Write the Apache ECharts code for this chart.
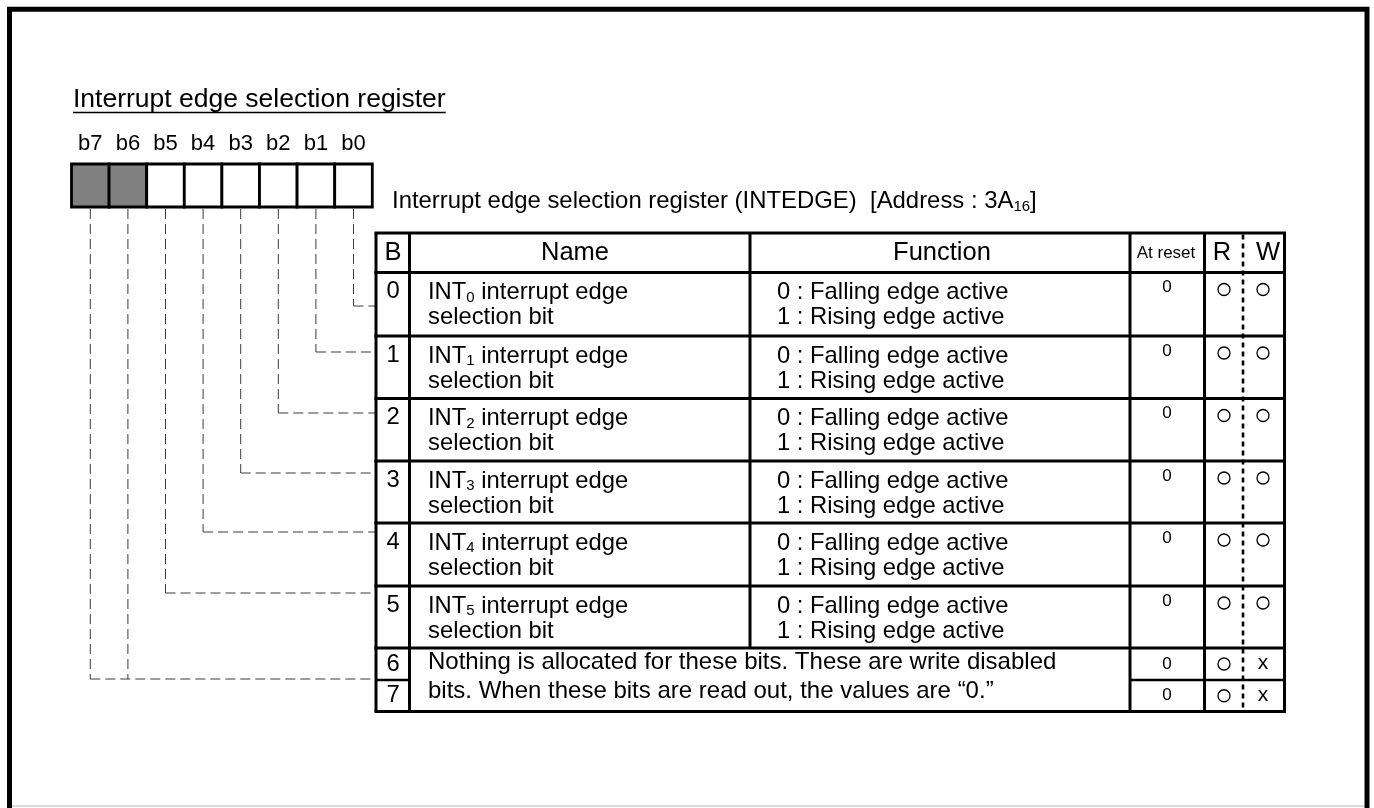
<!DOCTYPE html>
<html>
<head>
<meta charset="utf-8">
<script src="https://cdn.jsdelivr.net/npm/echarts@6/dist/echarts.min.js"></script>
<style>
html,body{margin:0;padding:0;background:#fff;}
#main{width:1374px;height:808px;}
</style>
</head>
<body>
<div id="main"></div>
<script>
// ---------------- content (data) ----------------
const title = 'Interrupt edge selection register';
const registerName = 'Interrupt edge selection register (INTEDGE)';
const addressLabel = '[Address : ';
const addressMain = '3A';
const addressSub = '16';
const bitLabels = ['b7', 'b6', 'b5', 'b4', 'b3', 'b2', 'b1', 'b0'];
const bitReserved = [true, true, false, false, false, false, false, false];
const headers = ['B', 'Name', 'Function', 'At reset', 'R', 'W'];
const rowBits = ['0', '1', '2', '3', '4', '5', '6', '7'];
const namePrefix = 'INT';
const nameIndex = ['0', '1', '2', '3', '4', '5'];
const nameRest = [' interrupt edge', ' interrupt edge', ' interrupt edge', ' interrupt edge', ' interrupt edge', ' interrupt edge'];
const nameLine2 = ['selection bit', 'selection bit', 'selection bit', 'selection bit', 'selection bit', 'selection bit'];
const funcLine1 = ['0 : Falling edge active', '0 : Falling edge active', '0 : Falling edge active', '0 : Falling edge active', '0 : Falling edge active', '0 : Falling edge active'];
const funcLine2 = ['1 : Rising edge active', '1 : Rising edge active', '1 : Rising edge active', '1 : Rising edge active', '1 : Rising edge active', '1 : Rising edge active'];
const reservedText = ['Nothing is allocated for these bits. These are write disabled', 'bits. When these bits are read out, the values are \u201c0.\u201d'];
const resetValues = ['0', '0', '0', '0', '0', '0', '0', '0'];
const readAccess = ['\u25cb', '\u25cb', '\u25cb', '\u25cb', '\u25cb', '\u25cb', '\u25cb', '\u25cb'];
const writeAccess = ['\u25cb', '\u25cb', '\u25cb', '\u25cb', '\u25cb', '\u25cb', 'x', 'x'];

// ---------------- layout (positions / styles) ----------------
const W = 1374, H = 808;
const FONT = '"Liberation Sans", Arial, Helvetica, sans-serif';
const L = {
  frame: { x1: 9.5, y1: 9.3, x2: 1367, y2: 860, w: 5 },
  title: { x: 73, y: 100, size: 26.5, ulY: 112.5 },
  bits: { x0: 71.5, w: 37.6, top: 164, bottom: 207, labelY: 144, labelSize: 22 },
  sub: { x: 392, y: 201, size: 23.9 },
  cols: [376, 409.5, 750, 1130, 1204.5, 1284.5],
  rwDiv: 1243,
  tableTop: 233,
  headerBottom: 272.5,
  rowTop: [272.5, 336, 398.5, 461, 523, 586, 648, 680],
  tableBottom: 711.5,
  headerX: [393, 575, 942, 1166, 1222, 1268],
  headerY: 253,
  headerSize: [25.5, 25.5, 25.5, 17, 25.5, 25.5],
  connY: [306, 352, 413, 473, 532, 593, 679, 679], // by bit number 0..7
  bX: 393, nameX: 428, funcX: 777, resetX: 1167, rX: 1224, wX: 1263,
  digitDy: 19, textDy: 32.5, resetDy: 15, markDy: 17,
  textSize: 23.8, lineH: 25,
  reservedY: 676.5, reservedSize: 24, reservedLineH: 29
};

function textWidth(str, size) {
  const ctx = document.createElement('canvas').getContext('2d');
  ctx.font = size + 'px ' + FONT;
  return ctx.measureText(str).width;
}
function txt(api, x, y, text, size, align, extra) {
  const p = api.coord([x, y]);
  const a = align || 'left';
  return {
    type: 'text',
    style: Object.assign({
      x: p[0], y: p[1], text: text,
      fontSize: size, fontFamily: FONT, fill: '#000',
      align: a, textAlign: a, verticalAlign: 'middle', textVerticalAlign: 'middle'
    }, extra || {})
  };
}
function seg(api, x1, y1, x2, y2, w, dash, color) {
  const a = api.coord([x1, y1]), b = api.coord([x2, y2]);
  return {
    type: 'line',
    shape: { x1: a[0], y1: a[1], x2: b[0], y2: b[1] },
    style: { stroke: color || '#000', lineWidth: w, lineDash: dash || null }
  };
}
function subRich(size) {
  return { s: { fontSize: size, fontFamily: FONT, fill: '#000', lineHeight: size + 2, verticalAlign: 'bottom' } };
}

function renderFrame(params, api) {
  const c = [];
  const tl = api.coord([L.frame.x1, L.frame.y1]), br = api.coord([L.frame.x2, L.frame.y2]);
  c.push({ type: 'rect', shape: { x: tl[0], y: tl[1], width: br[0] - tl[0], height: br[1] - tl[1] },
    style: { fill: 'none', stroke: '#000', lineWidth: L.frame.w } });
  c.push(seg(api, 12, 806, 1364, 806, 1, null, '#b8b8b8'));
  c.push(txt(api, L.title.x, L.title.y, title, L.title.size));
  const tw = textWidth(title, L.title.size);
  c.push(seg(api, L.title.x, L.title.ulY, L.title.x + tw, L.title.ulY, 1.7));
  c.push(txt(api, L.sub.x, L.sub.y,
    registerName + '  ' + addressLabel + addressMain + '{s|' + addressSub + '}]',
    L.sub.size, 'left', { lineHeight: 27, rich: subRich(15) }));
  return { type: 'group', children: c };
}

function renderConnector(params, api) {
  const i = params.dataIndex;
  const bitNo = bitLabels.length - 1 - i;
  const x = L.bits.x0 + L.bits.w * (i + 0.5);
  const y = L.connY[bitNo];
  const c = [];
  const dash = [10, 5];
  c.push(seg(api, x, L.bits.bottom + 2, x, y, 1, dash, '#3a3a3a'));
  // horizontal only for the leftmost bit sharing this target row
  let leftmost = true;
  for (let k = 0; k < i; k++) {
    if (L.connY[bitLabels.length - 1 - k] === y) leftmost = false;
  }
  if (leftmost) c.push(seg(api, x, y, L.cols[0] - 1, y, 1, dash, '#3a3a3a'));
  return { type: 'group', children: c };
}

function renderBit(params, api) {
  const i = params.dataIndex;
  const x = L.bits.x0 + L.bits.w * i;
  const tl = api.coord([x, L.bits.top]);
  const br = api.coord([x + L.bits.w, L.bits.bottom]);
  return { type: 'group', children: [
    { type: 'rect', shape: { x: tl[0], y: tl[1], width: br[0] - tl[0], height: br[1] - tl[1] },
      style: { fill: bitReserved[i] ? '#808080' : '#ffffff', stroke: '#000', lineWidth: 2.8 } },
    txt(api, x + L.bits.w / 2, L.bits.labelY, bitLabels[i], L.bits.labelSize, 'center')
  ] };
}

function renderTable(params, api) {
  const c = [];
  const C = L.cols, lw = 3;
  const left = C[0], right = C[5], top = L.tableTop, bot = L.tableBottom;
  [top, L.headerBottom].concat(L.rowTop.slice(1, 7)).forEach(function (y) {
    c.push(seg(api, left - 1.5, y, right + 1.5, y, lw));
  });
  c.push(seg(api, left - 1.5, bot, right + 1.5, bot, lw));
  const y67 = L.rowTop[7];
  c.push(seg(api, left, y67, C[1], y67, 2.4));
  c.push(seg(api, C[3], y67, right, y67, 2.4));
  c.push(seg(api, C[0], top, C[0], bot, lw));
  c.push(seg(api, C[1], top, C[1], bot, lw));
  c.push(seg(api, C[2], top, C[2], L.rowTop[6], lw));
  c.push(seg(api, C[3], top, C[3], bot, lw));
  c.push(seg(api, C[4], top, C[4], bot, lw));
  c.push(seg(api, C[5], top, C[5], bot, lw));
  c.push(seg(api, L.rwDiv, top + 1.5, L.rwDiv, bot - 1.5, 2.6, [5, 4]));
  headers.forEach(function (h, k) {
    c.push(txt(api, L.headerX[k], L.headerY, h, L.headerSize[k], 'center'));
  });
  return { type: 'group', children: c };
}

function mark(api, x, y, m) {
  if (m === '\u25cb') {
    const p = api.coord([x, y]);
    return { type: 'circle', shape: { cx: p[0], cy: p[1], r: 6 }, style: { fill: 'none', stroke: '#000', lineWidth: 1.3 } };
  }
  return txt(api, x, y - 1, m, 21, 'center');
}

function renderRow(params, api) {
  const i = params.dataIndex;
  const c = [];
  const top = L.rowTop[i];
  const bottom = i < 7 ? L.rowTop[i + 1] : L.tableBottom;
  if (i < 6) {
    c.push(txt(api, L.bX, top + L.digitDy, rowBits[i], L.textSize, 'center'));
    c.push(txt(api, L.nameX, top + L.textDy,
      namePrefix + '{s|' + nameIndex[i] + '}' + nameRest[i] + '\n' + nameLine2[i],
      L.textSize, 'left', { lineHeight: L.lineH, rich: subRich(15) }));
    c.push(txt(api, L.funcX, top + L.textDy, funcLine1[i] + '\n' + funcLine2[i],
      L.textSize, 'left', { lineHeight: L.lineH }));
    c.push(txt(api, L.resetX, top + L.resetDy, resetValues[i], 17, 'center'));
    c.push(mark(api, L.rX, top + L.markDy, readAccess[i]));
    c.push(mark(api, L.wX, top + L.markDy, writeAccess[i]));
  } else {
    const mid = (top + bottom) / 2;
    c.push(txt(api, L.bX, mid, rowBits[i], L.textSize, 'center'));
    c.push(txt(api, L.resetX, mid, resetValues[i], 17, 'center'));
    c.push(mark(api, L.rX, mid, readAccess[i]));
    c.push(mark(api, L.wX, mid, writeAccess[i]));
    if (i === 6) {
      c.push(txt(api, L.nameX, L.reservedY, reservedText.join('\n'), L.reservedSize, 'left',
        { lineHeight: L.reservedLineH }));
    }
  }
  return { type: 'group', children: c };
}

const chart = echarts.init(document.getElementById('main'), null, { renderer: 'canvas' });
const idx = function (arr) { return arr.map(function (v, k) { return [k, 0]; }); };
chart.setOption({
  animation: false,
  backgroundColor: '#ffffff',
  grid: { left: 0, right: 0, top: 0, bottom: 0, containLabel: false },
  xAxis: { type: 'value', min: 0, max: W, show: false },
  yAxis: { type: 'value', min: 0, max: H, inverse: true, show: false },
  tooltip: { show: false },
  series: [
    { type: 'custom', name: 'frame', clip: false, silent: true, data: [[0, 0]], renderItem: renderFrame },
    { type: 'custom', name: 'connectors', clip: false, silent: true, data: idx(bitLabels), renderItem: renderConnector },
    { type: 'custom', name: 'bits', clip: false, silent: true, data: idx(bitLabels), renderItem: renderBit },
    { type: 'custom', name: 'table', clip: false, silent: true, data: [[0, 0]], renderItem: renderTable },
    { type: 'custom', name: 'rows', clip: false, silent: true, data: idx(rowBits), renderItem: renderRow }
  ]
});
</script>
</body>
</html>
